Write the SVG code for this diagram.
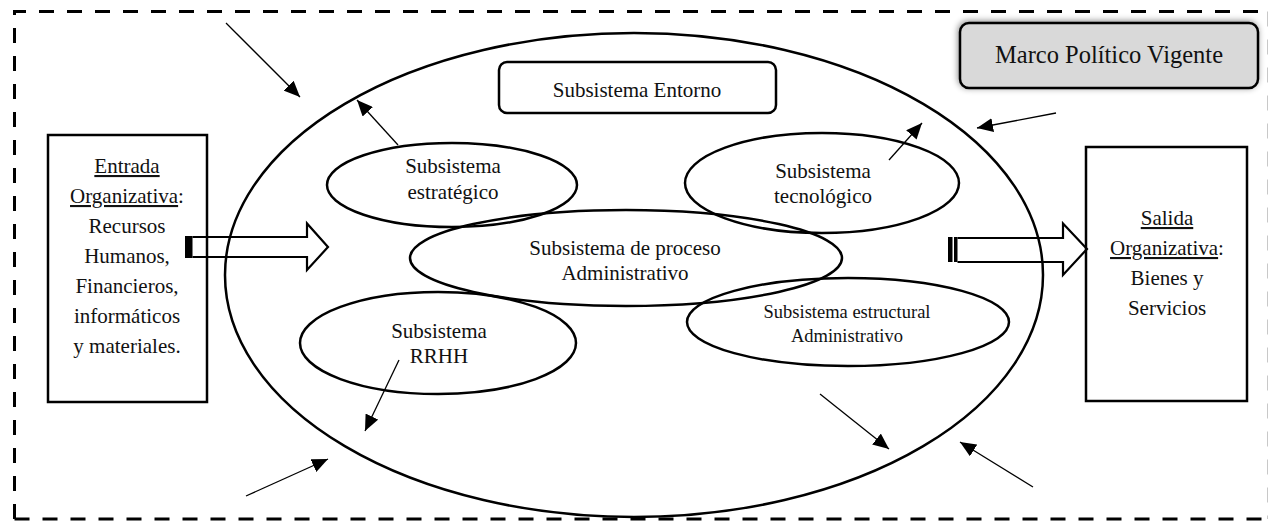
<svg xmlns="http://www.w3.org/2000/svg" width="1268" height="521" viewBox="0 0 1268 521">
<style>
text{font-family:"Liberation Serif","Times New Roman",serif;fill:#111;text-anchor:middle}
.t21{font-size:21px}
.t18{font-size:18.5px}
.t24{font-size:24.5px}
.ell{fill:none;stroke:#000;stroke-width:2.5}
.box{fill:#fff;stroke:#000;stroke-width:2.5}
.thin{stroke:#000;stroke-width:1.3;fill:none;marker-end:url(#ah)}
.blk{fill:none;stroke:#000;stroke-width:2.2;stroke-linejoin:miter}
.u{text-decoration:underline}
</style>
<defs>
<marker id="ah" markerUnits="userSpaceOnUse" markerWidth="17" markerHeight="14" refX="16" refY="7" orient="auto">
<path d="M0,0 L16,7 L0,14 z" fill="#000"/>
</marker>
<filter id="sh" x="-10%" y="-30%" width="120%" height="160%">
<feDropShadow dx="-1" dy="-1" stdDeviation="3" flood-color="#000" flood-opacity="0.45"/>
</filter>
</defs>

<g id="frame">
<path d="M14.5,519 L14.5,11.5 L1268,11.5" fill="none" stroke="#000" stroke-width="3" stroke-dasharray="15 13"/>
<path d="M14.5,519 L1268,519" fill="none" stroke="#000" stroke-width="3" stroke-dasharray="15 13"/>
<path d="M1267.5,11.5 L1267.5,519" fill="none" stroke="#c8c8c8" stroke-width="1" stroke-dasharray="15 13"/>
</g>

<g id="entorno-ellipse">
<ellipse class="ell" cx="634" cy="275" rx="409" ry="242"/>
</g>

<g id="marco">
<rect x="960" y="23" width="298" height="65" rx="9" fill="#d9d9d9" stroke="#000" stroke-width="2.5" filter="url(#sh)"/>
<text class="t24" x="1109" y="63">Marco Político Vigente</text>
</g>

<g id="subsistema-entorno">
<rect x="499" y="62" width="277" height="51" rx="8" fill="#fff" stroke="#000" stroke-width="2.5"/>
<text class="t21" x="637" y="97">Subsistema Entorno</text>
</g>

<g id="entrada">
<rect class="box" x="48" y="135" width="159" height="267"/>
<text class="t21" x="127" y="173"><tspan class="u">Entrada</tspan></text>
<text class="t21" x="127" y="203"><tspan class="u">Organizativa</tspan>:</text>
<text class="t21" x="127" y="233">Recursos</text>
<text class="t21" x="127" y="263">Humanos,</text>
<text class="t21" x="127" y="293">Financieros,</text>
<text class="t21" x="127" y="323">informáticos</text>
<text class="t21" x="127" y="353">y materiales.</text>
</g>

<g id="salida">
<rect class="box" x="1086" y="147" width="161" height="254"/>
<text class="t21" x="1167" y="225"><tspan class="u">Salida</tspan></text>
<text class="t21" x="1167" y="255"><tspan class="u">Organizativa</tspan>:</text>
<text class="t21" x="1167" y="285">Bienes y</text>
<text class="t21" x="1167" y="315">Servicios</text>
</g>

<g id="estrategico">
<ellipse class="ell" cx="452" cy="185" rx="125" ry="42"/>
<text class="t21" x="453" y="173">Subsistema</text>
<text class="t21" x="453" y="199">estratégico</text>
</g>

<g id="tecnologico">
<ellipse class="ell" cx="822" cy="183" rx="137" ry="50"/>
<text class="t21" x="823" y="178">Subsistema</text>
<text class="t21" x="823" y="203">tecnológico</text>
</g>

<g id="proceso">
<ellipse class="ell" cx="626" cy="258" rx="216" ry="48"/>
<text class="t21" x="625" y="255">Subsistema de proceso</text>
<text class="t21" x="625" y="280">Administrativo</text>
</g>

<g id="estructural">
<ellipse class="ell" cx="848" cy="322" rx="161" ry="44"/>
<text class="t18" x="847" y="318">Subsistema estructural</text>
<text class="t18" x="847" y="342">Administrativo</text>
</g>

<g id="rrhh">
<ellipse class="ell" cx="438" cy="343" rx="138" ry="51"/>
<text class="t21" x="439" y="338">Subsistema</text>
<text class="t21" x="439" y="363">RRHH</text>
</g>

<g id="connectors">
<rect x="185" y="236" width="7.5" height="22" fill="#000"/>
<path class="blk" d="M192.5,237 L307,237 L307,223.5 L328,247 L307,270 L307,257 L192.5,257"/>
<rect x="948" y="237" width="4.5" height="25" fill="#000"/>
<rect x="954" y="237" width="3.5" height="25" fill="#000"/>
<path class="blk" d="M957.5,238 L1063,238 L1063,223.5 L1087,249 L1063,275 L1063,262 L957.5,262"/>
<line class="thin" x1="226" y1="23" x2="300" y2="97"/>
<line class="thin" x1="398" y1="145" x2="357" y2="100"/>
<line class="thin" x1="889" y1="160" x2="922" y2="123"/>
<line class="thin" x1="1056" y1="113" x2="977" y2="128"/>
<line class="thin" x1="399" y1="360" x2="365" y2="431"/>
<line class="thin" x1="246" y1="496" x2="328" y2="459"/>
<line class="thin" x1="820" y1="394" x2="889" y2="449"/>
<line class="thin" x1="1033" y1="487" x2="960" y2="442"/>
</g>
</svg>
